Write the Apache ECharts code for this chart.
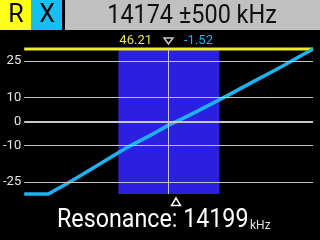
<!DOCTYPE html>
<html><head><meta charset="utf-8">
<script src="https://cdn.jsdelivr.net/npm/echarts@6/dist/echarts.min.js"></script>
<style>html,body{margin:0;padding:0;background:#000;}#c{width:320px;height:240px;}</style>
</head><body><div id="c"></div>
<script>
// Data
const freqs = [13674, 13724, 13757, 13774, 13824, 13874, 13924, 13974, 14024, 14074, 14124, 14174, 14224, 14274, 14324, 14374, 14424, 14474, 14524, 14574, 14624, 14674];
const xVals = [-30, -30, -30, -28.9, -25.6, -22.0, -18.4, -14.8, -11.2, -8.0, -4.9, -1.5, 1.3, 4.3, 7.4, 10.5, 13.7, 16.9, 20.1, 23.3, 26.7, 30];
const rVals = [30, 30, 30, 30, 30, 30, 30, 30, 30, 30, 30, 30, 30, 30, 30, 30, 30, 30, 30, 30, 30, 30];
const yTicks = [25, 10, 0, -10, -25];
const bandStart = 14000, bandEnd = 14350;
const centerFreq = 14174, spanText = '±500', resonance = 14199;
const rAtCenter = '46.21', xAtCenter = '-1.52';

const chart = echarts.init(document.getElementById('c'), null, {renderer: 'canvas'});
const FONT = 'Roboto';
const gridLines = yTicks.filter(v => v !== 0).map(v => ({yAxis: v}));
chart.setOption({
  backgroundColor: '#000',
  animation: false,
  grid: {left: 23, right: 7, top: 49, bottom: 46},
  xAxis: {type: 'value', min: centerFreq - 500, max: centerFreq + 500, show: false},
  yAxis: {
    type: 'value', min: -30, max: 30, interval: 5,
    axisLine: {show: false}, axisTick: {show: false}, splitLine: {show: false},
    axisLabel: {
      margin: 3, color: '#e6e6e6', fontFamily: FONT, fontSize: 13,
      formatter: v => yTicks.indexOf(v) >= 0 ? String(v) : ''
    }
  },
  series: [
    {
      type: 'line', data: [], silent: true,
      markArea: {silent: true, itemStyle: {color: '#2c20e0'}, data: [[{xAxis: bandStart}, {xAxis: bandEnd}]]},
      markLine: {
        silent: true, symbol: 'none', label: {show: false},
        data: [
          ...gridLines.map(d => Object.assign({}, d, {lineStyle: {color: '#c4c4c4', width: 1, type: 'solid'}})),
          {yAxis: 0, lineStyle: {color: '#c8c8c8', width: 2, type: 'solid'}},
          {xAxis: centerFreq, lineStyle: {color: '#c8c4e8', width: 1, type: 'solid'}}
        ]
      }
    },
    {
      type: 'line', data: freqs.map((f, i) => [f, rVals[i]]), showSymbol: false, clip: false,
      lineStyle: {color: '#f0f020', width: 3}
    },
    {
      type: 'line', data: freqs.map((f, i) => [f, xVals[i]]), showSymbol: false, clip: false,
      lineStyle: {color: '#1cb4f0', width: 3.5}
    }
  ],
  graphic: [
    {type: 'rect', shape: {x: 0, y: 0, width: 31, height: 30}, style: {fill: '#ffff1a'}},
    {type: 'rect', shape: {x: 31, y: 0, width: 31, height: 30}, style: {fill: '#12c0f4'}},
    {type: 'rect', shape: {x: 65, y: 0, width: 255, height: 30}, style: {fill: '#c0c0c0'}},
    {type: 'text', x: 16, y: 16, style: {text: 'R', fill: '#000', font: '25px ' + FONT, align: 'center', verticalAlign: 'middle'}},
    {type: 'text', x: 47, y: 16, style: {text: 'X', fill: '#000', font: '25px ' + FONT, align: 'center', verticalAlign: 'middle'}},
    {type: 'text', x: 192, y: 16, scaleX: 0.9, originX: 0, style: {text: centerFreq + ' ' + spanText + ' kHz', fill: '#111', font: '26px ' + FONT, align: 'center', verticalAlign: 'middle'}},
    {type: 'text', x: 152, y: 41, style: {text: rAtCenter, fill: '#e8e840', font: '13px ' + FONT, align: 'right', verticalAlign: 'middle'}},
    {type: 'polygon', shape: {points: [[164, 38], [173, 38], [168.5, 44]]}, style: {fill: 'none', stroke: '#c8c8c8', lineWidth: 1.5}},
    {type: 'text', x: 184, y: 41, style: {text: xAtCenter, fill: '#20b0f0', font: '13px ' + FONT, align: 'left', verticalAlign: 'middle'}},
    {type: 'polygon', shape: {points: [[176, 198], [171.5, 205.5], [180.5, 205.5]]}, style: {fill: 'none', stroke: '#ffffff', lineWidth: 1.5}},
    {type: 'text', x: 57, y: 233, scaleX: 0.93, originX: 0, style: {text: 'Resonance: ' + resonance, fill: '#fff', font: '25px ' + FONT, align: 'left', verticalAlign: 'bottom'}},
    {type: 'text', x: 250, y: 232, style: {text: 'kHz', fill: '#e0e0e0', font: '12px ' + FONT, align: 'left', verticalAlign: 'bottom'}}
  ]
});
</script></body></html>
